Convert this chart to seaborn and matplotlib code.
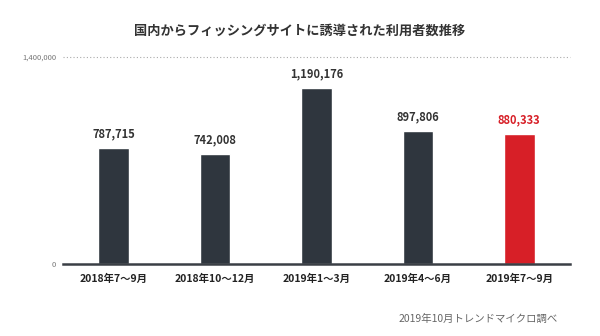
import matplotlib
matplotlib.use("Agg")
import matplotlib.pyplot as plt
import seaborn as sns
import pandas as pd

categories = ["2018年7～9月", "2018年10～12月", "2019年1～3月", "2019年4～6月", "2019年7～9月"]
values = [787715, 742008, 1190176, 897806, 880333]
title = "国内からフィッシングサイトに誘導された利用者数推移"
source = "2019年10月トレンドマイクロ調べ"
ytick_labels = ["0", "1,400,000"]

sns.set_theme(style="white")
plt.rcParams["font.family"] = ["Noto Sans CJK JP", "DejaVu Sans"]

dark = "#2f363e"
red = "#d71f27"
colors = [dark, dark, dark, dark, red]

df = pd.DataFrame({"cat": categories, "val": values})

fig = plt.figure(figsize=(6, 3.36), dpi=100)
ax = fig.add_axes([0.105, 0.2143, 0.845, 0.6161])
sns.barplot(data=df, x="cat", y="val", hue="cat", palette=colors, legend=False,
            width=0.3, ax=ax, saturation=1)
ax.set_ylim(0, 1400000)
ax.set_xlim(-0.5, 4.5)
ax.set_yticks([0, 1400000])
ax.set_yticklabels(ytick_labels, fontsize=5.5, color="#777777")
ax.tick_params(axis="y", length=0, pad=5)
ax.tick_params(axis="x", length=0, pad=7)
for lab in ax.get_xticklabels():
    lab.set_fontsize(7.5)
    lab.set_fontweight("bold")
    lab.set_color("#222222")
ax.set_xlabel("")
ax.set_ylabel("")
for s in ["top", "right", "left"]:
    ax.spines[s].set_visible(False)
ax.spines["bottom"].set_color("#3a3f45")
ax.spines["bottom"].set_linewidth(1.8)
ax.axhline(1400000, color="#aaaaaa", linestyle=(0, (1, 2)), linewidth=0.8, clip_on=False)

for i, v in enumerate(values):
    ax.annotate(f"{v:,}", (i, v), xytext=(0, 5.5), textcoords="offset points",
                ha="center", va="bottom", fontsize=8, fontweight="bold",
                color=red if i == 4 else "#333333")

fig.text(0.5, 0.91, title, ha="center", va="center", fontsize=9.5,
         fontweight="bold", color="#333333")
fig.text(0.93, 0.05, source, ha="right", va="center", fontsize=7.5, color="#666666")

fig.savefig("out.png", dpi=100, facecolor="white")
